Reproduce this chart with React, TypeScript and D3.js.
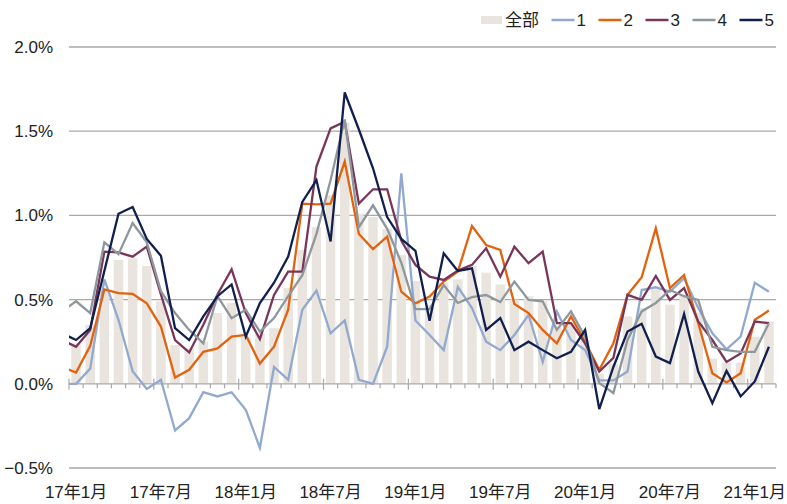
import * as d3 from 'd3';

// monthly series, 16年12月 .. 21年2月 (the first month sits left of the axis and is clipped)
const months = d3.timeMonth.range(new Date(2016, 11, 1), new Date(2021, 2, 1));
const tickLabels = ['17年1月', '17年7月', '18年1月', '18年7月', '19年1月', '19年7月', '20年1月', '20年7月', '21年1月'];
const yTicks = [-0.5, 0, 0.5, 1.0, 1.5, 2.0];

const allValues = [
  0.25, 0.24, 0.35, 0.55, 0.735, 0.745, 0.7, 0.49, 0.23, 0.21, 0.25, 0.42, 0.48,
  0.28, 0.3, 0.33, 0.57, 0.795, 0.93, 1.12, 1.55, 1.01, 0.99, 0.92, 0.765,
  0.61, 0.47, 0.6, 0.62, 0.7, 0.66, 0.59, 0.5, 0.52, 0.49, 0.34, 0.36,
  0.26, 0.06, 0.12, 0.4, 0.45, 0.56, 0.47, 0.52, 0.42, 0.15, 0.125, 0.125,
  0.28, 0.37,
];
const s1 = [
  0.0, 0.0, 0.09, 0.62, 0.38, 0.075, -0.03, 0.024, -0.277, -0.204, -0.05, -0.075, -0.05,
  -0.154, -0.38, 0.1, 0.024, 0.44, 0.553, 0.3, 0.376, 0.024, 0.0, 0.22, 1.25,
  0.376, 0.29, 0.2, 0.575, 0.45, 0.25, 0.2, 0.29, 0.41, 0.13, 0.43, 0.26,
  0.2, 0.02, 0.02, 0.073, 0.557, 0.573, 0.547, 0.627, 0.45, 0.3, 0.205, 0.28,
  0.6, 0.547,
];
const s2 = [
  0.1, 0.067, 0.225, 0.56, 0.538, 0.534, 0.478, 0.34, 0.037, 0.083, 0.19, 0.21, 0.28,
  0.29, 0.12, 0.22, 0.44, 1.07, 1.066, 1.07, 1.32, 0.89, 0.8, 0.874, 0.547,
  0.478, 0.518, 0.607, 0.666, 0.937, 0.824, 0.795, 0.474, 0.42, 0.32, 0.24, 0.4,
  0.25, 0.083, 0.24, 0.528, 0.633, 0.923, 0.568, 0.646, 0.36, 0.063, 0.008, 0.063,
  0.38, 0.435,
];
const s3 = [
  0.26, 0.22, 0.32, 0.785, 0.78, 0.755, 0.815, 0.53, 0.26, 0.186, 0.35, 0.53, 0.68,
  0.42, 0.265, 0.528, 0.666, 0.666, 1.29, 1.517, 1.556, 1.07, 1.155, 1.155, 0.85,
  0.706, 0.636, 0.617, 0.672, 0.706, 0.805, 0.636, 0.814, 0.716, 0.785, 0.36, 0.36,
  0.24, 0.073, 0.154, 0.528, 0.498, 0.64, 0.498, 0.568, 0.37, 0.26, 0.13, 0.18,
  0.37, 0.36,
];
const s4 = [
  0.43, 0.49, 0.42, 0.84, 0.77, 0.955, 0.84, 0.55, 0.42, 0.32, 0.24, 0.52, 0.39,
  0.44, 0.31, 0.39, 0.52, 0.645, 0.89, 1.21, 1.57, 0.93, 1.06, 0.92, 0.72,
  0.443, 0.443, 0.587, 0.48, 0.515, 0.527, 0.485, 0.607, 0.498, 0.49, 0.32, 0.43,
  0.28, 0.004, -0.055, 0.26, 0.43, 0.48, 0.557, 0.52, 0.498, 0.22, 0.2, 0.19,
  0.19, 0.36,
];
const s5 = [
  0.3, 0.26, 0.33, 0.67, 1.01, 1.05, 0.86, 0.76, 0.33, 0.26, 0.4, 0.52, 0.59,
  0.28, 0.48, 0.6, 0.755, 1.08, 1.21, 0.845, 1.73, 1.51, 1.28, 0.99, 0.86,
  0.79, 0.375, 0.775, 0.67, 0.686, 0.32, 0.39, 0.2, 0.25, 0.2, 0.152, 0.19,
  0.32, -0.15, 0.1, 0.31, 0.356, 0.162, 0.123, 0.415, 0.073, -0.115, 0.077, -0.075,
  0.014, 0.22,
];

const series = [
  { name: '1', values: s1, color: '#91a9cf' },
  { name: '2', values: s2, color: '#e2620e' },
  { name: '3', values: s3, color: '#7a3659' },
  { name: '4', values: s4, color: '#8d979c' },
  { name: '5', values: s5, color: '#111f4e' },
];

const W = 787;
const H = 504;
const left = 69;
const right = 776;
const FONT = '"Liberation Sans", Arial, "Noto Sans CJK SC", sans-serif';
const BAR = '#e9e4de';
const GRID = '#a9a9a9';

export default function App() {
  // index 0 = 17年1月; the month before it gets index -1
  const idx = (i: number) => i - 1;
  const nMonths = months.length - 1;
  const x = d3.scaleLinear().domain([-0.5, nMonths - 0.5]).range([left, right]);
  const y = d3.scaleLinear().domain([-0.5, 2.0]).range([468, 47]);
  const step = x(1) - x(0);
  const barW = step * 0.67;

  const line = d3
    .line<number>()
    .x((_, i) => x(idx(i)))
    .y((d) => y(d));

  const boundaries = d3.range(0, nMonths + 1);

  // legend layout
  const legendItems = [{ name: '全部', color: BAR, bar: true }, ...series.map((s) => ({ name: s.name, color: s.color, bar: false }))];
  let cx = 481;
  const legend = legendItems.map((it) => {
    const sw = it.bar ? 21 : 23;
    const tx = cx + sw + (it.bar ? 3 : 2);
    const tw = it.bar ? 34 : 9.5;
    const item = { ...it, x: cx, sw, tx };
    cx = tx + tw + 12.5;
    return item;
  });

  return (
    <div style={{ position: 'absolute', left: 0, top: 0 }}>
      <svg width={W} height={H} style={{ display: 'block', background: '#fff' }} fontFamily={FONT}>
        <defs>
          <clipPath id="plot">
            <rect x={left} y={0} width={right - left} height={H} />
          </clipPath>
        </defs>

        {/* gridlines */}
        {yTicks.filter((t) => t !== 0).map((t) => (
          <line key={t} x1={left} x2={right} y1={y(t)} y2={y(t)} stroke={GRID} strokeWidth={1.3} />
        ))}

        {/* y labels */}
        {yTicks.map((t) => (
          <text key={t} x={53} y={y(t)} dy="0.35em" textAnchor="end" fontSize={17} fill="#222">
            {d3.format('.1f')(t) + '%'}
          </text>
        ))}

        <g clipPath="url(#plot)">
          {/* bars: 全部 */}
          {allValues.map((v, i) => (
            <rect
              key={i}
              x={x(idx(i)) - barW / 2}
              width={barW}
              y={Math.min(y(v), y(0))}
              height={Math.abs(y(v) - y(0))}
              fill={BAR}
            />
          ))}
        </g>

        {/* x axis */}
        <line x1={left} x2={right} y1={y(0)} y2={y(0)} stroke={GRID} strokeWidth={1.3} />
        {boundaries.map((b) => {
          const major = b % 6 === 0;
          return (
            <line
              key={b}
              x1={x(b - 0.5)}
              x2={x(b - 0.5)}
              y1={y(0) - (major ? 5 : 0)}
              y2={y(0) + (major ? 6 : 4.5)}
              stroke={GRID}
              strokeWidth={1.2}
            />
          );
        })}

        <g clipPath="url(#plot)">
          {series.map((s) => (
            <path
              key={s.name}
              d={line(s.values) || ''}
              fill="none"
              stroke={s.color}
              strokeWidth={2.3}
              strokeLinejoin="miter"
            />
          ))}
        </g>

        {/* x labels */}
        {tickLabels.map((t, k) => (
          <text key={t} x={x(k * 6)} y={498} textAnchor="middle" fontSize={17} fill="#222">
            {t}
          </text>
        ))}

        {/* legend */}
        {legend.map((it) => (
          <g key={it.name}>
            {it.bar ? (
              <rect x={it.x} y={16} width={it.sw} height={8} fill={it.color} />
            ) : (
              <line x1={it.x} x2={it.x + it.sw} y1={20} y2={20} stroke={it.color} strokeWidth={2.5} />
            )}
            <text x={it.tx} y={26} fontSize={17} fill="#222">
              {it.name}
            </text>
          </g>
        ))}
      </svg>
    </div>
  );
}
